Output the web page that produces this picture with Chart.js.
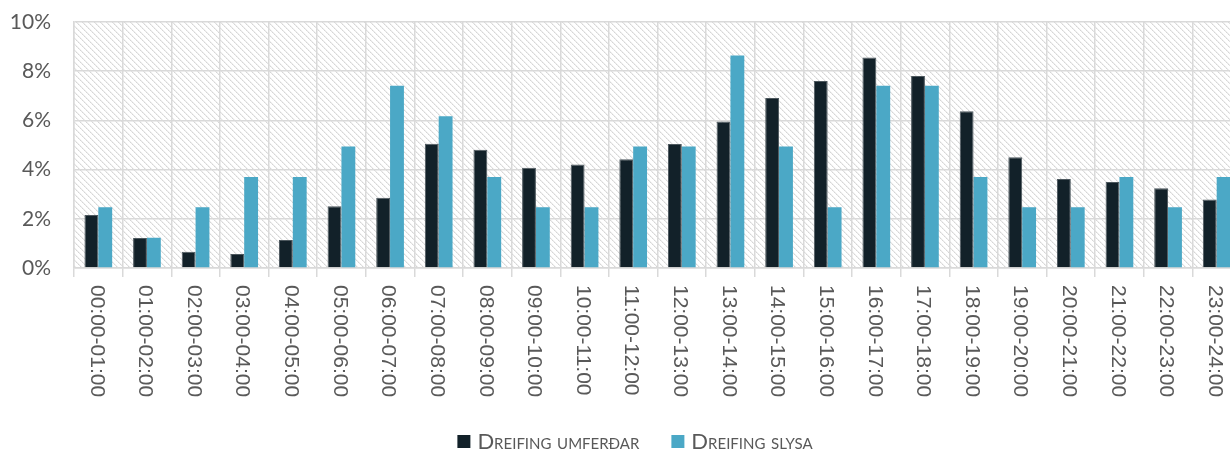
<!DOCTYPE html>
<html>
<head>
<meta charset="utf-8">
<script src="https://cdn.jsdelivr.net/npm/chart.js@4.4.1/dist/chart.umd.min.js"></script>
<style>
  html, body { margin: 0; padding: 0; background: #fff; overflow: hidden; }
  #wrap { position: relative; width: 1241px; height: 450px; }
  #legend {
    position: absolute; left: 635px; top: 431px; transform: translateX(-50%);
    display: flex; align-items: center; white-space: nowrap;
    font-family: Lato, "Open Sans", sans-serif; font-size: 22px; line-height: 20px;
    font-variant: small-caps; color: #595959;
  }
  #legend .item { display: flex; align-items: center; }
  #legend .item + .item { margin-left: 32px; }
  #legend .sw { width: 13px; height: 13px; margin-right: 7px; }
</style>
</head>
<body>
<div id="wrap">
  <canvas id="c" width="1241" height="450"></canvas>
  <div id="legend"></div>
</div>
<script>
// Hour slots
const hours = [
  '00:00-01:00', '01:00-02:00', '02:00-03:00', '03:00-04:00', '04:00-05:00', '05:00-06:00',
  '06:00-07:00', '07:00-08:00', '08:00-09:00', '09:00-10:00', '10:00-11:00', '11:00-12:00',
  '12:00-13:00', '13:00-14:00', '14:00-15:00', '15:00-16:00', '16:00-17:00', '17:00-18:00',
  '18:00-19:00', '19:00-20:00', '20:00-21:00', '21:00-22:00', '22:00-23:00', '23:00-24:00'
];

// Share of traffic per hour (%)
const trafficShare = [
  2.15, 1.22, 0.66, 0.57, 1.14, 2.51, 2.86, 5.05, 4.81, 4.08, 4.21, 4.42,
  5.04, 5.96, 6.91, 7.60, 8.56, 7.80, 6.37, 4.50, 3.62, 3.50, 3.24, 2.78
];

// Share of accidents per hour (%)
const accidentShare = [
  2.47, 1.23, 2.47, 3.70, 3.70, 4.94, 7.41, 6.17, 3.70, 2.47, 2.47, 4.94,
  4.94, 8.64, 4.94, 2.47, 7.41, 7.41, 3.70, 2.47, 2.47, 3.70, 2.47, 3.70
];

const seriesNames = ['Dreifing umferðar', 'Dreifing slysa'];
const yTicks = [0, 2, 4, 6, 8, 10];

const GRID = '#d9d9d9';
const TEXT = '#595959';

function makeHatch(ctx) {
  const t = document.createElement('canvas');
  t.width = 6; t.height = 6;
  const g = t.getContext('2d');
  g.fillStyle = '#ffffff';
  g.fillRect(0, 0, 6, 6);
  for (let i = 0; i < 6; i++) {
    g.fillStyle = (i % 2) ? '#e2e2e2' : '#d6d6d6';
    g.fillRect(i, i, 1, 1);
    g.fillStyle = '#f0f0f0';
    g.fillRect((i + 1) % 6, i, 1, 1);
  }
  return ctx.createPattern(t, 'repeat');
}

// Diagonal hatch behind the plot area
const hatchBackground = {
  id: 'hatchBackground',
  beforeDraw(chart) {
    const { ctx, chartArea: a } = chart;
    ctx.save();
    ctx.fillStyle = makeHatch(ctx);
    ctx.fillRect(a.left, a.top, a.right - a.left, a.bottom - a.top);
    ctx.restore();
  }
};

// Category labels turned a quarter clockwise, reading downwards
const verticalLabels = {
  id: 'verticalLabels',
  afterDraw(chart) {
    const x = chart.scales.x;
    const ctx = chart.ctx;
    ctx.save();
    ctx.font = '21px "Liberation Sans", Arial, sans-serif';
    ctx.fillStyle = TEXT;
    ctx.textAlign = 'left';
    ctx.textBaseline = 'middle';
    x.ticks.forEach((t, i) => {
      ctx.save();
      ctx.translate(x.getPixelForTick(i) - 2, x.top + 17);
      ctx.rotate(Math.PI / 2);
      ctx.fillText(chart.data.labels[i], 0, 0);
      ctx.restore();
    });
    ctx.restore();
  }
};

const chart = new Chart(document.getElementById('c'), {
  type: 'bar',
  data: {
    labels: hours,
    datasets: [
      {
        label: seriesNames[0],
        data: trafficShare,
        backgroundColor: '#122129',
        borderColor: '#4d585e',
        borderWidth: 1,
        borderSkipped: 'bottom'
      },
      {
        label: seriesNames[1],
        data: accidentShare,
        backgroundColor: '#4ba8c6',
        borderWidth: 0
      }
    ]
  },
  options: {
    responsive: false,
    animation: false,
    devicePixelRatio: 1,
    layout: { padding: { top: 22, left: 0, right: 0, bottom: 32 } },
    datasets: { bar: { categoryPercentage: 0.57, barPercentage: 1.0 } },
    plugins: {
      legend: { display: false },
      tooltip: { enabled: false }
    },
    scales: {
      x: {
        grid: {
          offset: true,
          color: GRID,
          lineWidth: 1.5,
          drawTicks: true,
          tickLength: 9
        },
        border: { display: true, color: GRID, width: 1.5 },
        ticks: { display: false },
        afterFit(scale) { scale.height = 150; }
      },
      y: {
        min: 0,
        max: 10,
        grid: { color: GRID, lineWidth: 1.5, drawTicks: false },
        border: { display: true, color: GRID, width: 1.5 },
        ticks: {
          padding: 23,
          color: TEXT,
          font: { family: 'Lato, "Open Sans", sans-serif', size: 21 },
          callback: v => v + '%'
        },
        afterBuildTicks(scale) { scale.ticks = yTicks.map(v => ({ value: v })); },
        afterFit(scale) {
          scale.width = 74;
          scale.paddingTop = 10;
          scale.paddingBottom = 10;
        }
      }
    }
  },
  plugins: [hatchBackground, verticalLabels]
});

// Legend below the plot
const legendEl = document.getElementById('legend');
chart.data.datasets.forEach(ds => {
  const item = document.createElement('div');
  item.className = 'item';
  const sw = document.createElement('span');
  sw.className = 'sw';
  sw.style.background = ds.backgroundColor;
  const label = document.createElement('span');
  label.textContent = ds.label;
  item.appendChild(sw);
  item.appendChild(label);
  legendEl.appendChild(item);
});
</script>
</body>
</html>
